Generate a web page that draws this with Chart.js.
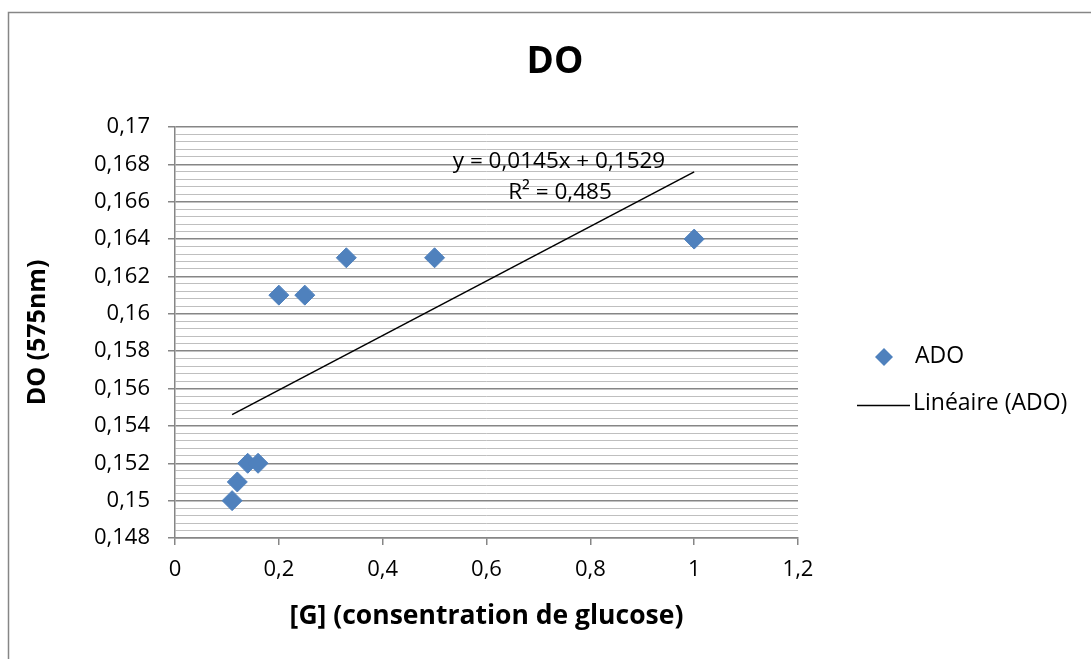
<!DOCTYPE html>
<html>
<head>
<meta charset="utf-8">
<script src="https://cdn.jsdelivr.net/npm/chart.js@4"></script>
<style>
    html, body { margin: 0; padding: 0; background: #fff; }
    #wrap { width: 1091px; height: 659px; position: relative; }
</style>
</head>
<body>
<div id="wrap"><canvas id="scatterChart" width="1091" height="659"></canvas></div>
<script>
// podaci ocitani sa slike
const glukoza = [0.11, 0.12, 0.14, 0.16, 0.2, 0.25, 0.33, 0.5, 1];
const ado = [0.150, 0.151, 0.152, 0.152, 0.161, 0.161, 0.163, 0.163, 0.164];
const trendX = [0.11, 1];
const trendY = [0.1546, 0.1676];
const jednadzba = ['y = 0,0145x + 0,1529', 'R² = 0,485'];
const xTicks = [0, 0.2, 0.4, 0.6, 0.8, 1, 1.2];
const yMin = 0.148, yMax = 0.17, yMinor = 0.0004;

const FONT = '"Open Sans", Lato, sans-serif';

function zarez(v) {
    return String(parseFloat(v.toFixed(4))).replace('.', ',');
}

function isMajor(v) {
    return Math.round((v - yMin) / yMinor) % 5 === 0;
}

const extras = {
    id: 'extras',
    afterDraw: function(chart) {
        const ctx = chart.ctx;
        ctx.save();
        // okvir
        ctx.strokeStyle = '#868686';
        ctx.lineWidth = 1.5;
        ctx.beginPath();
        ctx.moveTo(8.5, 659);
        ctx.lineTo(8.5, 12.5);
        ctx.lineTo(1091, 12.5);
        ctx.stroke();

        // naslov
        ctx.fillStyle = '#000';
        ctx.textAlign = 'center';
        ctx.textBaseline = 'middle';
        ctx.font = 'bold 37px ' + FONT;
        ctx.fillText('DO', 555, 62);

        // jednadzba trenda
        ctx.font = '22.5px ' + FONT;
        ctx.fillText(jednadzba[0], 559, 162);
        ctx.fillText(jednadzba[1], 560, 193);

        // legenda
        const ds = chart.data.datasets[0];
        ctx.fillStyle = ds.backgroundColor;
        ctx.beginPath();
        ctx.moveTo(884, 348);
        ctx.lineTo(893, 357);
        ctx.lineTo(884, 366);
        ctx.lineTo(875, 357);
        ctx.closePath();
        ctx.fill();
        ctx.strokeStyle = '#000';
        ctx.lineWidth = 1.5;
        ctx.beginPath();
        ctx.moveTo(857, 405.5);
        ctx.lineTo(910, 405.5);
        ctx.stroke();
        ctx.fillStyle = '#000';
        ctx.textAlign = 'left';
        ctx.font = '23px ' + FONT;
        ctx.fillText(ds.label, 915, 356);
        ctx.fillText(chart.data.datasets[1].label, 913, 403);
        ctx.restore();
    }
};

const ctx = document.getElementById('scatterChart').getContext('2d');
const chart = new Chart(ctx, {
    type: 'scatter',
    data: {
        datasets: [{
            label: 'ADO',
            data: glukoza.map(function(g, i) { return {x: g, y: ado[i]}; }),
            backgroundColor: '#4F81BD',
            borderColor: '#4F81BD',
            pointStyle: 'rectRot',
            pointRadius: 10,
            pointHoverRadius: 10,
            order: 1
        }, {
            label: 'Linéaire (ADO)',
            type: 'line',
            data: trendX.map(function(g, i) { return {x: g, y: trendY[i]}; }),
            borderColor: '#000',
            borderWidth: 1.5,
            pointRadius: 0,
            fill: false,
            order: 0
        }]
    },
    options: {
        responsive: false,
        animation: false,
        events: [],
        layout: { padding: { left: 0, top: 127, right: 293, bottom: 0 } },
        plugins: {
            legend: { display: false },
            tooltip: { enabled: false },
            title: { display: false }
        },
        scales: {
            x: {
                type: 'linear',
                min: 0,
                max: 1.2,
                afterBuildTicks: function(scale) {
                    scale.ticks = xTicks.map(function(v) { return {value: v}; });
                },
                afterFit: function(scale) { scale.height = 121; },
                ticks: {
                    color: '#000',
                    font: { family: FONT, size: 22 },
                    padding: 12,
                    callback: function(v) { return zarez(v); }
                },
                grid: {
                    drawOnChartArea: false,
                    color: '#868686',
                    tickLength: 7,
                    lineWidth: 1.5
                },
                border: { color: '#868686', width: 1.5 },
                title: {
                    display: true,
                    text: '[G] (consentration de glucose)',
                    color: '#000',
                    font: { family: FONT, size: 26.5, weight: 'bold' },
                    padding: { top: 0, bottom: 27 }
                }
            },
            y: {
                type: 'linear',
                min: yMin,
                max: yMax,
                afterBuildTicks: function(scale) {
                    const t = [];
                    const n = Math.round((yMax - yMin) / yMinor);
                    for (let i = 0; i <= n; i++) {
                        t.push({value: yMin + i * yMinor});
                    }
                    scale.ticks = t;
                },
                afterFit: function(scale) { scale.width = 175; },
                ticks: {
                    color: '#000',
                    font: { family: FONT, size: 22 },
                    padding: 18,
                    autoSkip: false,
                    callback: function(v) { return isMajor(v) ? zarez(v) : ''; }
                },
                grid: {
                    color: function(c) { return isMajor(c.tick.value) ? '#868686' : '#bfbfbf'; },
                    lineWidth: function(c) { return isMajor(c.tick.value) ? 1.5 : 1; },
                    tickColor: function(c) { return isMajor(c.tick.value) ? '#868686' : 'rgba(0,0,0,0)'; },
                    tickLength: 7
                },
                border: { color: '#868686', width: 1.5 },
                title: {
                    display: true,
                    text: 'DO (575nm)',
                    color: '#000',
                    font: { family: FONT, size: 25, weight: 'bold' },
                    padding: { top: 23, bottom: 0 }
                }
            }
        }
    },
    plugins: [extras]
});
</script>
</body>
</html>
